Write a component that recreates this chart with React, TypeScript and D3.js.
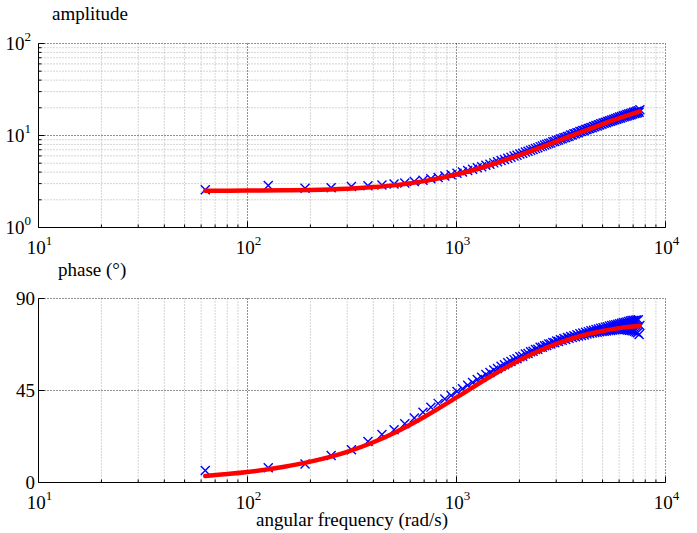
import React from 'react';
import * as d3 from 'd3';

// angular frequency of each measured point (rad/s)
const omega = [
  62.8, 125.7, 188.5, 251.3, 314.2, 377.0, 439.8, 502.7, 565.5, 628.3,
  691.2, 754.0, 816.8, 879.6, 942.5, 1005.3, 1068.1, 1131.0, 1193.8, 1256.6,
  1319.5, 1382.3, 1445.1, 1508.0, 1570.8, 1633.6, 1696.5, 1759.3, 1822.1, 1885.0,
  1947.8, 2010.6, 2073.5, 2136.3, 2199.1, 2261.9, 2324.8, 2387.6, 2450.4, 2513.3,
  2576.1, 2638.9, 2701.8, 2764.6, 2827.4, 2890.3, 2953.1, 3015.9, 3078.8, 3141.6,
  3204.4, 3267.3, 3330.1, 3392.9, 3455.8, 3518.6, 3581.4, 3644.2, 3707.1, 3769.9,
  3832.7, 3895.6, 3958.4, 4021.2, 4084.1, 4146.9, 4209.7, 4272.6, 4335.4, 4398.2,
  4461.1, 4523.9, 4586.7, 4649.6, 4712.4, 4775.2, 4838.1, 4900.9, 4963.7, 5026.5,
  5089.4, 5152.2, 5215.0, 5277.9, 5340.7, 5403.5, 5466.4, 5529.2, 5592.0, 5654.9,
  5717.7, 5780.5, 5843.4, 5906.2, 5969.0, 6031.9, 6094.7, 6157.5, 6220.4, 6283.2,
  6346.0, 6408.8, 6471.7, 6534.5, 6597.3, 6660.2, 6723.0, 6785.8, 6848.7, 6911.5,
  6974.3, 7037.2, 7100.0, 7162.8, 7225.7, 7288.5, 7351.3, 7414.2, 7477.0, 7539.8,
];

// measured amplitude
const amplitude = [
  2.57, 2.86, 2.67, 2.70, 2.79, 2.84, 2.90, 2.97, 3.05, 3.17,
  3.26, 3.38, 3.49, 3.63, 3.74, 3.89, 4.01, 4.16, 4.29, 4.45,
  4.58, 4.75, 4.88, 5.04, 5.18, 5.35, 5.48, 5.66, 5.79, 5.97,
  6.10, 6.29, 6.42, 6.60, 6.73, 6.93, 7.05, 7.24, 7.37, 7.57,
  7.69, 7.88, 8.01, 8.20, 8.30, 8.53, 8.62, 8.84, 8.92, 9.16,
  9.22, 9.48, 9.52, 9.78, 9.84, 10.10, 10.13, 10.42, 10.44, 10.72,
  10.74, 11.02, 11.03, 11.33, 11.32, 11.62, 11.60, 11.93, 11.89, 12.23,
  12.17, 12.52, 12.44, 12.81, 12.71, 13.10, 12.98, 13.38, 13.25, 13.67,
  13.55, 13.95, 13.80, 14.22, 14.07, 14.50, 14.30, 14.78, 14.55, 15.05,
  14.82, 15.32, 15.06, 15.58, 15.27, 15.86, 15.52, 16.12, 15.74, 16.38,
  15.98, 16.62, 16.18, 16.90, 16.41, 17.12, 16.63, 17.38, 16.85, 17.60,
  17.10, 17.85, 17.30, 18.05, 17.46, 18.33, 17.72, 18.55, 17.90, 19.10,
];

// measured phase (degrees)
const phase = [
  5.9, 7.2, 9.1, 13.2, 16.0, 20.1, 23.5, 25.8, 28.7, 31.6,
  34.4, 36.8, 38.7, 40.9, 42.6, 44.5, 45.9, 47.6, 48.9, 50.4,
  51.5, 52.8, 53.8, 55.0, 55.8, 56.9, 57.6, 58.6, 59.2, 60.1,
  60.5, 61.5, 61.8, 62.8, 63.1, 63.9, 64.2, 65.0, 65.2, 66.1,
  66.1, 66.9, 67.0, 67.8, 67.8, 68.5, 68.3, 69.2, 69.0, 69.8,
  69.6, 70.4, 70.0, 70.9, 70.5, 71.4, 70.9, 71.8, 71.3, 72.3,
  71.6, 72.7, 71.9, 73.1, 72.2, 73.5, 72.6, 73.8, 72.9, 74.2,
  73.1, 74.5, 73.4, 74.8, 73.5, 75.1, 73.7, 75.4, 73.9, 75.7,
  74.0, 76.0, 74.1, 76.2, 74.3, 76.5, 74.4, 76.8, 74.6, 77.0,
  74.7, 77.2, 74.8, 77.4, 74.8, 77.6, 74.9, 77.9, 75.0, 78.1,
  74.9, 78.3, 74.8, 78.5, 74.6, 78.8, 74.5, 79.0, 74.4, 79.2,
  74.2, 79.3, 74.0, 79.4, 73.6, 79.5, 73.2, 79.6, 72.4, 76.8,
];

// fitted model curve
const fitOmega = [62.8, 100, 150, 200, 300, 400, 500, 700, 1000, 1500, 2000, 3000, 4000, 5000, 6000, 7539.8];
const fitAmplitude = [2.51, 2.52, 2.54, 2.56, 2.64, 2.75, 2.87, 3.19, 3.77, 4.90, 6.12, 8.62, 11.04, 13.31, 15.41, 18.27];
const fitPhase = [3.2, 5.1, 7.7, 10.2, 15.0, 19.7, 24.1, 32.0, 41.6, 52.7, 59.8, 67.8, 71.9, 74.1, 75.5, 76.5];

const xTicks = [10, 100, 1000, 10000];
const ampTicks = [1, 10, 100];
const phaseTicks = [0, 45, 90];

const W = 697;
const H = 533;
const FONT = '"Liberation Serif", "Times New Roman", serif';

const x = d3.scaleLog().domain([10, 10000]).range([38.5, 665.5]);
const yAmp = d3.scaleLog().domain([1, 100]).range([227.5, 43.5]);
const yPh = d3.scaleLinear().domain([0, 90]).range([482.5, 298.5]);

const minorLog = (lo: number, hi: number) => {
  const out: number[] = [];
  for (let d = lo; d < hi; d *= 10) {
    for (let m = 2; m <= 9; m++) out.push(d * m);
  }
  return out;
};

const xMinor = minorLog(10, 10000);
const ampMinor = minorLog(1, 100);

const MAJ = '#222';
const MIN = '#ababab';
const DASH = '1,2';

function Pow({ x: px, y: py, exp, anchor }: { x: number; y: number; exp: number; anchor: string }) {
  return (
    <text x={px} y={py} textAnchor={anchor as any} fontFamily={FONT} fontSize={19} fill="#000">
      10
      <tspan dy={-9} fontSize={13}>{exp}</tspan>
    </text>
  );
}

function XGrid({ y0, y1 }: { y0: number; y1: number }) {
  return (
    <g>
      {xMinor.map((v) => (
        <line key={'xm' + v} x1={x(v)} x2={x(v)} y1={y0} y2={y1} stroke={MIN} strokeDasharray={DASH} />
      ))}
      {xTicks.slice(1).map((v) => (
        <line key={'xM' + v} x1={x(v)} x2={x(v)} y1={y0} y2={y1} stroke={MAJ} strokeDasharray={DASH} />
      ))}
    </g>
  );
}

function XAxis({ y0 }: { y0: number }) {
  return (
    <g>
      <line x1={x(10)} x2={x(10000)} y1={y0} y2={y0} stroke="#000" />
      {xMinor.map((v) => (
        <line key={'tm' + v} x1={x(v)} x2={x(v)} y1={y0} y2={y0 - 3} stroke="#000" />
      ))}
      {xTicks.map((v) => (
        <line key={'tM' + v} x1={x(v)} x2={x(v)} y1={y0} y2={y0 - 6} stroke="#000" />
      ))}
      {xTicks.map((v) => (
        <Pow key={'lab' + v} x={x(v) + 1} y={y0 + 26} exp={Math.round(Math.log10(v))} anchor="middle" />
      ))}
    </g>
  );
}

export default function App() {
  const ampLine = d3
    .line<number>()
    .x((_, i) => x(fitOmega[i]))
    .y((_, i) => yAmp(fitAmplitude[i]))
    .curve(d3.curveMonotoneX);
  const phLine = d3
    .line<number>()
    .x((_, i) => x(fitOmega[i]))
    .y((_, i) => yPh(fitPhase[i]))
    .curve(d3.curveMonotoneX);

  const n = Math.min(omega.length, amplitude.length, phase.length);
  const pts = d3.range(n);
  const cross = 'M-4.5,-4.5L4.5,4.5M-4.5,4.5L4.5,-4.5';

  const xL = x(10);
  const xR = x(10000);

  return (
    <svg width={W} height={H} style={{ position: 'absolute', left: 0, top: 0, background: '#fff' }}>
      <rect x={0} y={0} width={W} height={H} fill="#fff" />

      {/* ---------- amplitude panel ---------- */}
      <g>
        <XGrid y0={yAmp(100)} y1={yAmp(1)} />
        {ampMinor.map((v) => (
          <line key={'am' + v} x1={xL} x2={xR} y1={yAmp(v)} y2={yAmp(v)} stroke={MIN} strokeDasharray={DASH} />
        ))}
        {ampTicks.slice(1).map((v) => (
          <line key={'aM' + v} x1={xL} x2={xR} y1={yAmp(v)} y2={yAmp(v)} stroke={MAJ} strokeDasharray={DASH} />
        ))}
        <line x1={xL} x2={xL} y1={yAmp(100)} y2={yAmp(1)} stroke="#000" />
        {ampMinor.map((v) => (
          <line key={'atm' + v} x1={xL} x2={xL + 3} y1={yAmp(v)} y2={yAmp(v)} stroke="#000" />
        ))}
        {ampTicks.map((v) => (
          <line key={'atM' + v} x1={xL} x2={xL + 6} y1={yAmp(v)} y2={yAmp(v)} stroke="#000" />
        ))}
        {ampTicks.map((v) => (
          <Pow key={'al' + v} x={31} y={yAmp(v) + 6.5} exp={Math.round(Math.log10(v))} anchor="end" />
        ))}
        <XAxis y0={yAmp(1)} />

        {pts.map((i) => (
          <path
            key={'ap' + i}
            d={cross}
            transform={`translate(${x(omega[i])},${yAmp(amplitude[i])})`}
            stroke="#0000ff"
            strokeWidth={1.4}
            fill="none"
          />
        ))}
        <path d={ampLine(fitOmega) || ''} stroke="#ff0000" strokeWidth={4.5} fill="none" strokeLinecap="round" />
        <text x={52} y={20} fontFamily={FONT} fontSize={19} fill="#000">amplitude</text>
      </g>

      {/* ---------- phase panel ---------- */}
      <g>
        <XGrid y0={yPh(90)} y1={yPh(0)} />
        {phaseTicks.slice(1).map((v) => (
          <line key={'pM' + v} x1={xL} x2={xR} y1={yPh(v)} y2={yPh(v)} stroke={MAJ} strokeDasharray={DASH} />
        ))}
        <line x1={xL} x2={xL} y1={yPh(90)} y2={yPh(0)} stroke="#000" />
        {phaseTicks.map((v) => (
          <line key={'ptM' + v} x1={xL} x2={xL + 6} y1={yPh(v)} y2={yPh(v)} stroke="#000" />
        ))}
        {phaseTicks.map((v) => (
          <text key={'pl' + v} x={35} y={yPh(v) + 6} textAnchor="end" fontFamily={FONT} fontSize={19} fill="#000">
            {v}
          </text>
        ))}
        <XAxis y0={yPh(0)} />

        {pts.map((i) => (
          <path
            key={'pp' + i}
            d={cross}
            transform={`translate(${x(omega[i])},${yPh(phase[i])})`}
            stroke="#0000ff"
            strokeWidth={1.4}
            fill="none"
          />
        ))}
        <path d={phLine(fitOmega) || ''} stroke="#ff0000" strokeWidth={4.5} fill="none" strokeLinecap="round" />
        <text x={58} y={276} fontFamily={FONT} fontSize={19} fill="#000">phase (°)</text>
        <text x={(xL + xR) / 2} y={526} textAnchor="middle" fontFamily={FONT} fontSize={19} fill="#000">
          angular frequency (rad/s)
        </text>
      </g>
    </svg>
  );
}
